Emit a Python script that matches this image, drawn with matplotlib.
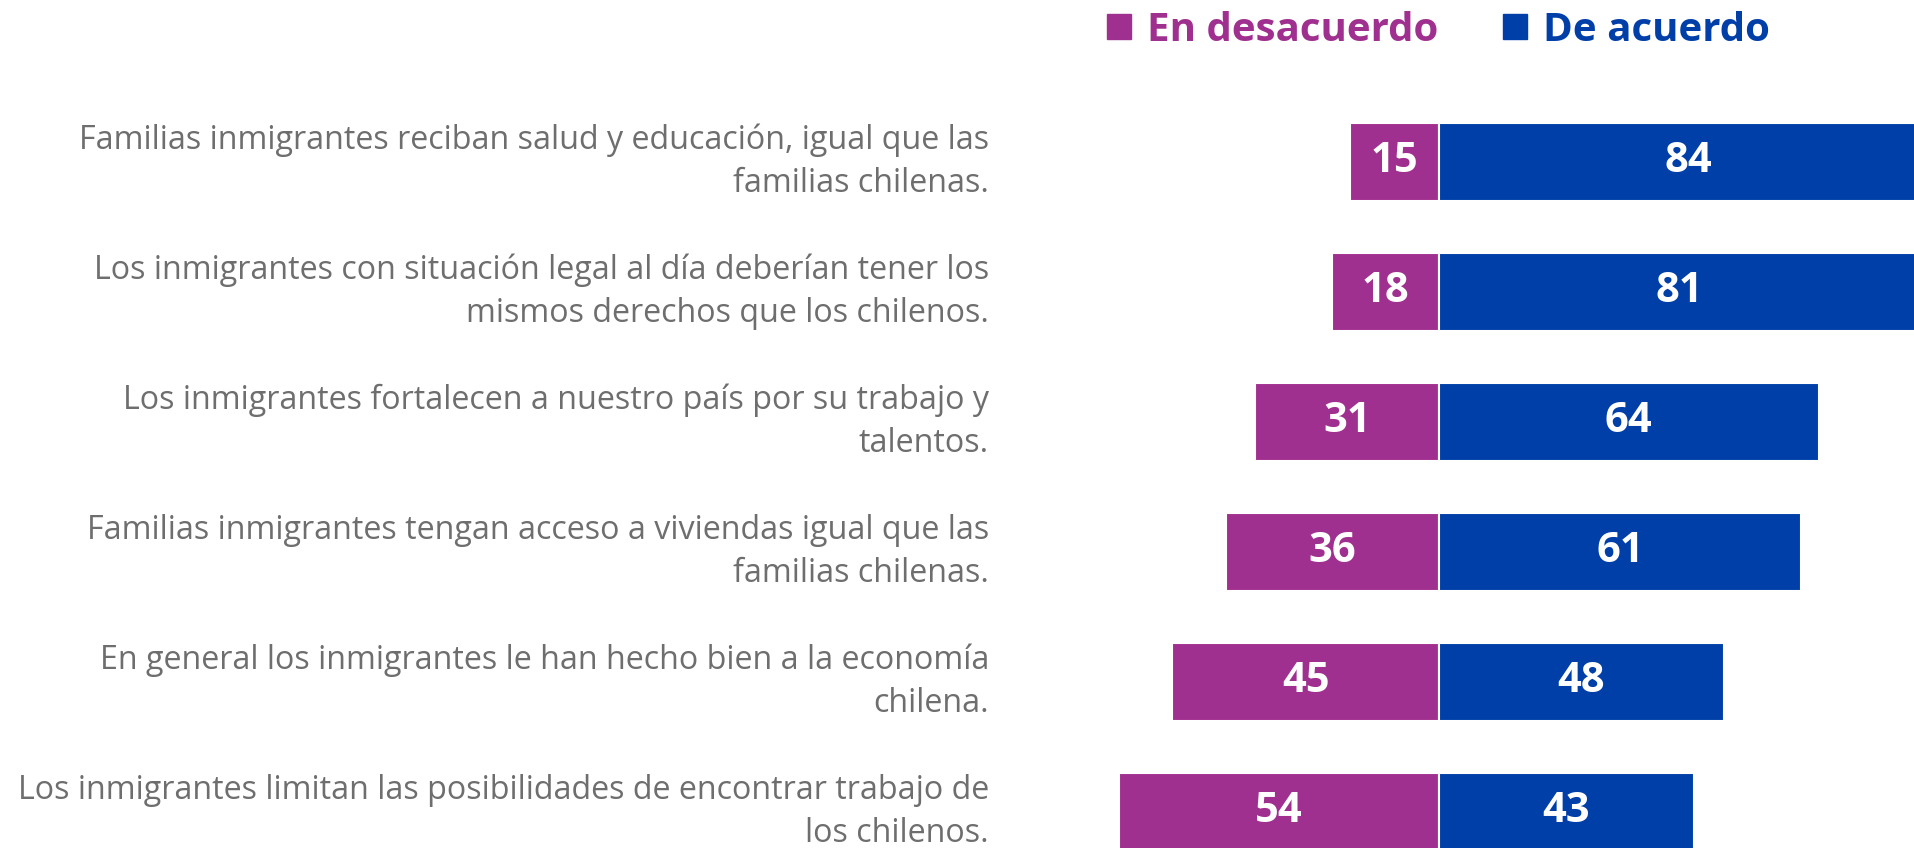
import matplotlib
matplotlib.use('Agg')
import matplotlib.pyplot as plt
from matplotlib.patches import Patch
import matplotlib.transforms as mtransforms
import numpy as np

# donnees
etiquetas = [
    "Familias inmigrantes reciban salud y educación, igual que las\nfamilias chilenas.",
    "Los inmigrantes con situación legal al día deberían tener los\nmismos derechos que los chilenos.",
    "Los inmigrantes fortalecen a nuestro país por su trabajo y\ntalentos.",
    "Familias inmigrantes tengan acceso a viviendas igual que las\nfamilias chilenas.",
    "En general los inmigrantes le han hecho bien a la economía\nchilena.",
    "Los inmigrantes limitan las posibilidades de encontrar trabajo de\nlos chilenos.",
]
desacuerdo = [15, 18, 31, 36, 45, 54]
acuerdo = [84, 81, 64, 61, 48, 43]
series = ["En desacuerdo", "De acuerdo"]

col_des = '#A0308F'
col_acu = '#003FA8'
col_txt = '#6E6E6E'

fuente = ['Open Sans', 'DejaVu Sans']
plt.rcParams['font.family'] = fuente

fig = plt.figure(figsize=(19.14, 8.48), dpi=100)
ax = fig.add_axes([0, 0, 1, 1])

y = np.arange(len(etiquetas))
ax.barh(y, -np.array(desacuerdo), height=0.6, color=col_des, edgecolor='white', linewidth=1.5)
ax.barh(y, acuerdo, height=0.6, color=col_acu, edgecolor='white', linewidth=1.5)

for i in range(len(etiquetas)):
    ax.text(-desacuerdo[i] / 2, y[i], str(desacuerdo[i]), ha='center', va='center',
            color='white', fontsize=30, fontweight='bold')
    ax.text(acuerdo[i] / 2, y[i], str(acuerdo[i]), ha='center', va='center',
            color='white', fontsize=30, fontweight='bold')

# etiquettes a gauche
trans = mtransforms.blended_transform_factory(ax.transAxes, ax.transData)
for i, lab in enumerate(etiquetas):
    ax.text(989 / 1914, y[i], lab, transform=trans, ha='right', va='center',
            color=col_txt, fontsize=23.2, linespacing=1.4)

ax.set_xlim(-242.7, 80.1)
ax.set_ylim(5.277, -1.246)
ax.axis('off')

handles = [Patch(color=col_des), Patch(color=col_acu)]
fig.legend(handles, series, loc='upper right', bbox_to_anchor=(1806 / 1914, 1.03),
           ncol=2, frameon=False, handlelength=0.6, handleheight=0.6, handletextpad=0.4,
           columnspacing=1.6, labelcolor=[col_des, col_acu],
           prop={'weight': 'bold', 'size': 29, 'family': fuente})

plt.savefig('out.png', dpi=100)
